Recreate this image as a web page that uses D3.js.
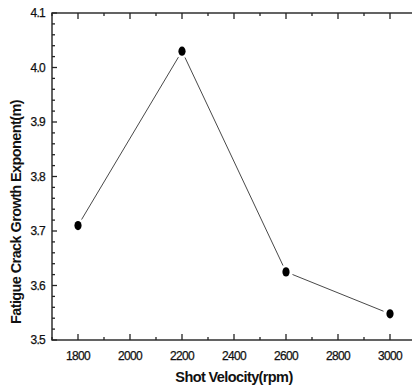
<!DOCTYPE html>
<html>
<head>
<meta charset="utf-8">
<script src="https://cdn.jsdelivr.net/npm/d3@7"></script>
<style>
  body { margin: 0; background: #fff; }
  svg { display: block; }
  text { font-family: "Liberation Sans Narrow", "Liberation Sans", Arial, sans-serif; fill: #111; }
</style>
</head>
<body>
<div id="chart"></div>
<script>
const velocity = [1800, 2200, 2600, 3000];
const exponent = [3.71, 4.03, 3.625, 3.548];
const xTicks = [1800, 2000, 2200, 2400, 2600, 2800, 3000];
const yTicks = [3.5, 3.6, 3.7, 3.8, 3.9, 4.0, 4.1];

const width = 412, height = 389;
const svg = d3.select("#chart").append("svg")
    .attr("width", width)
    .attr("height", height);

const x = d3.scaleLinear().domain([1700, 3100]).range([52, 416]);
const y = d3.scaleLinear().domain([3.5, 4.1]).range([340, 13]);

// frame
svg.append("rect")
    .attr("x", x(1700)).attr("y", y(4.1))
    .attr("width", x(3100) - x(1700)).attr("height", y(3.5) - y(4.1))
    .attr("fill", "none").attr("stroke", "#222").attr("stroke-width", 1.4);

// x ticks, bottom and top, pointing inward
const xMinor = d3.range(1700, 3101, 100);
xMinor.forEach(v => {
    const major = xTicks.includes(v);
    const len = major ? 6 : 3;
    svg.append("line").attr("x1", x(v)).attr("x2", x(v))
        .attr("y1", y(3.5)).attr("y2", y(3.5) - len)
        .attr("stroke", "#222").attr("stroke-width", 1.3);
    svg.append("line").attr("x1", x(v)).attr("x2", x(v))
        .attr("y1", y(4.1)).attr("y2", y(4.1) + len)
        .attr("stroke", "#222").attr("stroke-width", 1.3);
});

// y ticks, left, pointing inward
const yMinor = d3.range(0, 31).map(i => 3.5 + i * 0.02);
yMinor.forEach((v, i) => {
    const major = i % 5 === 0;
    svg.append("line").attr("x1", x(1700)).attr("x2", x(1700) + (major ? 5 : 3))
        .attr("y1", y(v)).attr("y2", y(v))
        .attr("stroke", "#222").attr("stroke-width", 1.3);
});

svg.selectAll(".xl").data(xTicks).enter().append("text")
    .attr("x", d => x(d)).attr("y", 360)
    .attr("text-anchor", "middle")
    .attr("font-size", "12px")
    .attr("letter-spacing", "-0.7px")
    .attr("stroke", "#111").attr("stroke-width", 0.25)
    .text(d => d);

svg.selectAll(".yl").data(yTicks).enter().append("text")
    .attr("x", 45).attr("y", d => y(d) + 4)
    .attr("text-anchor", "end")
    .attr("font-size", "12px")
    .attr("letter-spacing", "-0.7px")
    .attr("stroke", "#111").attr("stroke-width", 0.25)
    .text(d => d.toFixed(1));

svg.append("text")
    .attr("x", 234).attr("y", 382)
    .attr("text-anchor", "middle")
    .attr("font-size", "14.5px")
    .attr("font-weight", "bold")
    .attr("letter-spacing", "-0.6px")
    .text("Shot Velocity(rpm)");

svg.append("text")
    .attr("transform", "translate(21,212) rotate(-90)")
    .attr("text-anchor", "middle")
    .attr("font-size", "14.5px")
    .attr("font-weight", "bold")
    .attr("letter-spacing", "-0.6px")
    .text("Fatigue Crack Growth Exponent(m)");

// connecting segments with a small gap at each marker
const pts = velocity.map((v, i) => [x(v), y(exponent[i])]);
for (let i = 0; i < pts.length - 1; i++) {
    const [x1, y1] = pts[i], [x2, y2] = pts[i + 1];
    const dx = x2 - x1, dy = y2 - y1;
    const dist = Math.sqrt(dx * dx + dy * dy);
    const gap = 7;
    svg.append("line")
        .attr("x1", x1 + dx / dist * gap).attr("y1", y1 + dy / dist * gap)
        .attr("x2", x2 - dx / dist * gap).attr("y2", y2 - dy / dist * gap)
        .attr("stroke", "#333").attr("stroke-width", 0.9);
}

svg.selectAll(".pt").data(velocity).enter().append("ellipse")
    .attr("cx", d => x(d))
    .attr("cy", (d, i) => y(exponent[i]))
    .attr("rx", 3.6).attr("ry", 4.6)
    .attr("fill", "#000");
</script>
</body>
</html>
